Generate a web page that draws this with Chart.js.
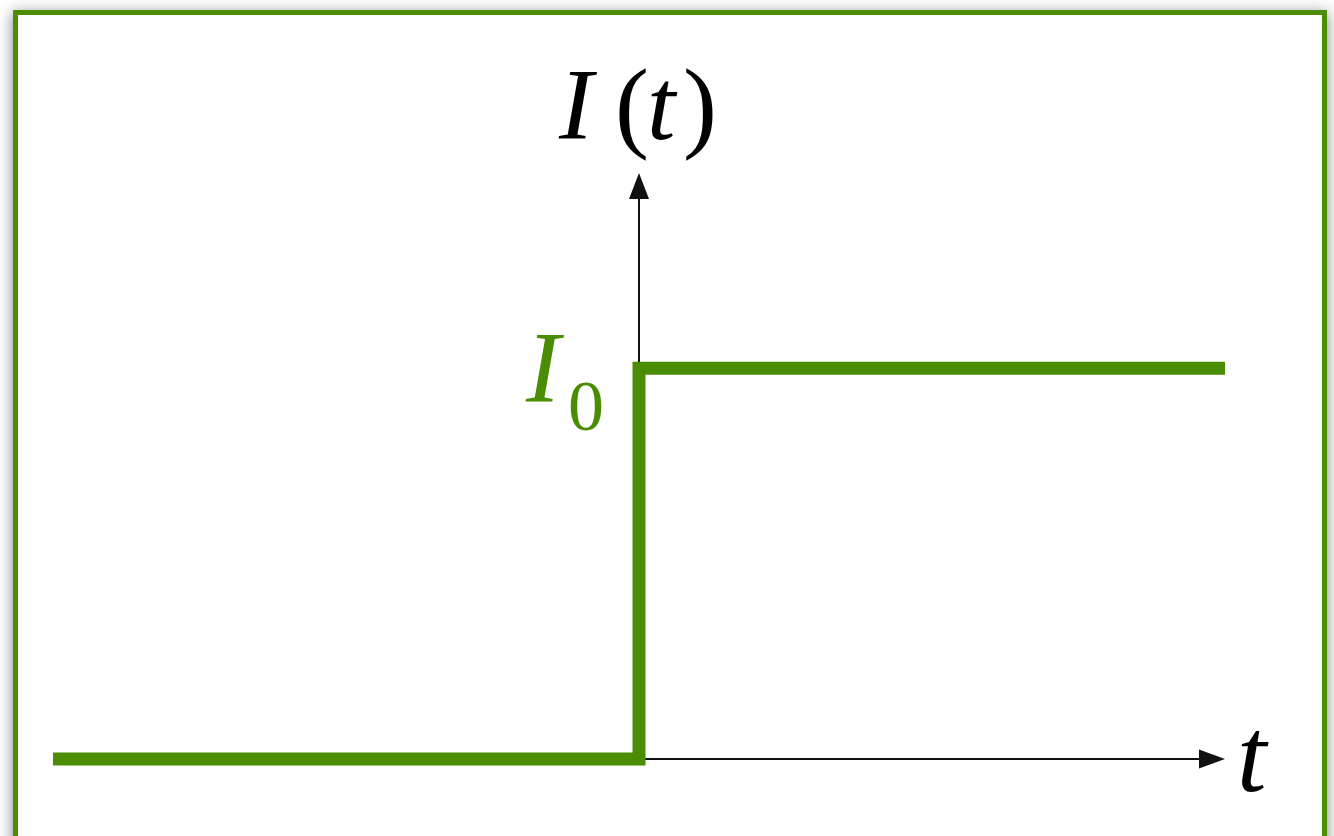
<!DOCTYPE html>
<html>
<head>
<meta charset="utf-8">
<script src="https://cdn.jsdelivr.net/npm/chart.js@4.4.1/dist/chart.umd.min.js"></script>
<style>
  html, body { margin: 0; padding: 0; background: #ffffff; overflow: hidden; }
  #frame {
    position: absolute; left: 13px; top: 10px; width: 1314px; height: 860px;
    box-sizing: border-box; border: 5px solid #4a8c02; background: #ffffff;
    box-shadow: 0 3px 14px rgba(0,0,0,0.5); z-index: 0;
  }
  #wrap { position: absolute; left: 0; top: 0; width: 1334px; height: 836px; z-index: 1; }
</style>
</head>
<body>
<div id="frame"></div>
<div id="wrap"><canvas id="c" width="1334" height="836"></canvas></div>
<script>
// ---- data ----
const timeValues = [-1, 0, 0, 1];      // t
const currentValues = [0, 0, 1, 1];    // I(t), in units of I0
const xRange = [-1, 1];
const yRange = [0, 1.5];
const yLabel = ['I', '(', 't', ')'];
const levelLabel = ['I', '0'];
const xLabel = 't';

const green = '#4a8c02';
const serif = '"Liberation Serif", "DejaVu Serif", serif';

const axesPlugin = {
  id: 'axesArrows',
  beforeDatasetsDraw(chart) {
    const ctx = chart.ctx;
    const xs = chart.scales.x, ys = chart.scales.y;
    const x0 = xs.getPixelForValue(0), y0 = ys.getPixelForValue(0);
    const xEnd = xs.getPixelForValue(xRange[1]);
    const yEnd = ys.getPixelForValue(yRange[1]);
    ctx.save();
    ctx.strokeStyle = '#111';
    ctx.fillStyle = '#111';
    ctx.lineWidth = 2;
    // x axis
    ctx.beginPath();
    ctx.moveTo(x0, y0); ctx.lineTo(xEnd - 20, y0); ctx.stroke();
    ctx.beginPath();
    ctx.moveTo(xEnd, y0); ctx.lineTo(xEnd - 26, y0 - 9.5); ctx.lineTo(xEnd - 26, y0 + 9.5); ctx.closePath(); ctx.fill();
    // y axis
    ctx.beginPath();
    ctx.moveTo(x0, y0); ctx.lineTo(x0, yEnd + 20); ctx.stroke();
    ctx.beginPath();
    ctx.moveTo(x0, yEnd); ctx.lineTo(x0 - 10, yEnd + 26); ctx.lineTo(x0 + 10, yEnd + 26); ctx.closePath(); ctx.fill();
    ctx.restore();
  },
  afterDatasetsDraw(chart) {
    const ctx = chart.ctx;
    const xs = chart.scales.x, ys = chart.scales.y;
    const x0 = xs.getPixelForValue(0), y0 = ys.getPixelForValue(0);
    const y1 = ys.getPixelForValue(1);
    const xEnd = xs.getPixelForValue(xRange[1]);
    const yEnd = ys.getPixelForValue(yRange[1]);
    ctx.save();
    ctx.textBaseline = 'alphabetic';
    ctx.textAlign = 'left';
    // y-axis label I(t)
    ctx.fillStyle = '#000';
    const base = yEnd - 34;
    ctx.font = 'italic 102px ' + serif; ctx.fillText(yLabel[0], x0 - 80, base);
    ctx.font = '102px ' + serif; ctx.fillText(yLabel[1], x0 - 24, base);
    ctx.font = 'italic 102px ' + serif; ctx.fillText(yLabel[2], x0 + 8, base);
    ctx.font = '102px ' + serif; ctx.fillText(yLabel[3], x0 + 44, base);
    // level label I0
    ctx.fillStyle = green;
    ctx.font = 'italic 102px ' + serif; ctx.fillText(levelLabel[0], x0 - 113, y1 + 34);
    ctx.font = '72px ' + serif; ctx.fillText(levelLabel[1], x0 - 71, y1 + 62);
    // x-axis label t
    ctx.fillStyle = '#000';
    ctx.font = 'italic 106px ' + serif; ctx.fillText(xLabel, xEnd + 12, y0 + 32);
    ctx.restore();
  }
};

new Chart(document.getElementById('c'), {
  type: 'line',
  data: {
    datasets: [{
      data: timeValues.map((t, i) => ({ x: t, y: currentValues[i] })),
      borderColor: green,
      borderWidth: 13,
      borderJoinStyle: 'miter',
      borderCapStyle: 'butt',
      pointRadius: 0,
      fill: false,
      tension: 0,
      clip: false
    }]
  },
  options: {
    responsive: false,
    animation: false,
    devicePixelRatio: 1,
    layout: { padding: { left: 53, right: 109, top: 173, bottom: 77 } },
    plugins: { legend: { display: false }, tooltip: { enabled: false }, title: { display: false } },
    scales: {
      x: { type: 'linear', min: xRange[0], max: xRange[1], display: false },
      y: { type: 'linear', min: yRange[0], max: yRange[1], display: false }
    }
  },
  plugins: [axesPlugin]
});
</script>
</body>
</html>
